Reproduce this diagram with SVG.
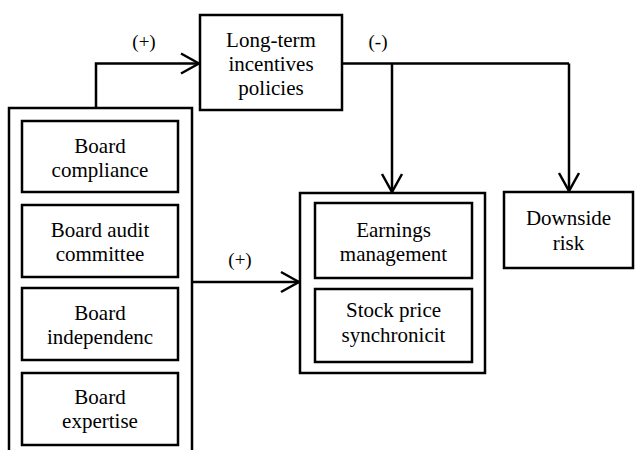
<svg xmlns="http://www.w3.org/2000/svg" width="635" height="450" viewBox="0 0 635 450">
<defs>
<style>
.box{fill:#fff;stroke:#000;stroke-width:2.5}
.frame{fill:none;stroke:#000;stroke-width:2.5}
text{font-family:"Liberation Serif","LiberationSerif","Times New Roman",Times,"Tinos","Noto Serif","DejaVu Serif",serif;fill:#000;text-anchor:middle}
.t{font-size:21px}
.lbl{font-size:19px}
.ln{fill:none;stroke:#000;stroke-width:2.5}
</style>
<marker id="ah" markerUnits="userSpaceOnUse" viewBox="-22 -12 24 24" markerWidth="24" markerHeight="24" refX="0" refY="0" orient="auto">
<path d="M-18,-10 L0,0 L-18,10" fill="none" stroke="#000" stroke-width="2.5"/>
</marker>
</defs>
<rect width="635" height="450" fill="#fff"/>
<g id="connectors">
<path class="ln" d="M96,108 V63.5 H199" marker-end="url(#ah)"/>
<path class="ln" d="M342,63.5 H569"/>
<path class="ln" d="M392,63.5 V192" marker-end="url(#ah)"/>
<path class="ln" d="M569,63.5 V191" marker-end="url(#ah)"/>
<path class="ln" d="M192,282 H299" marker-end="url(#ah)"/>
<text class="lbl" x="144" y="48">(+)</text>
<text class="lbl" x="378" y="48">(-)</text>
<text class="lbl" x="240" y="266">(+)</text>
</g>
<g id="board-group">
<path class="frame" d="M9,460 V108 H192 V460"/>
</g>
<g id="board-compliance">
<rect class="box" x="22" y="121" width="156" height="71"/>
<text class="t" x="100" y="153">Board</text>
<text class="t" x="100" y="177">compliance</text>
</g>
<g id="board-audit">
<rect class="box" x="22" y="205" width="156" height="72"/>
<text class="t" x="100" y="237">Board audit</text>
<text class="t" x="100" y="261">committee</text>
</g>
<g id="board-independence">
<rect class="box" x="22" y="288" width="156" height="72"/>
<text class="t" x="100" y="320">Board</text>
<text class="t" x="100" y="344">independenc</text>
</g>
<g id="board-expertise">
<rect class="box" x="22" y="373" width="156" height="72"/>
<text class="t" x="100" y="404">Board</text>
<text class="t" x="100" y="428">expertise</text>
</g>
<g id="long-term">
<rect class="box" x="200" y="15" width="142" height="95"/>
<text class="t" x="271" y="47">Long-term</text>
<text class="t" x="271" y="71">incentives</text>
<text class="t" x="271" y="95">policies</text>
</g>
<g id="outcomes-group">
<rect class="frame" x="300" y="193" width="185" height="180"/>
</g>
<g id="earnings-management">
<rect class="box" x="315" y="203" width="157" height="75"/>
<text class="t" x="393.5" y="237">Earnings</text>
<text class="t" x="393.5" y="261">management</text>
</g>
<g id="stock-price">
<rect class="box" x="315" y="289" width="157" height="73"/>
<text class="t" x="393.5" y="317">Stock price</text>
<text class="t" x="393.5" y="342">synchronicit</text>
</g>
<g id="downside-risk">
<rect class="box" x="504" y="192" width="129" height="76"/>
<text class="t" x="568.5" y="225">Downside</text>
<text class="t" x="568.5" y="250">risk</text>
</g>
</svg>
